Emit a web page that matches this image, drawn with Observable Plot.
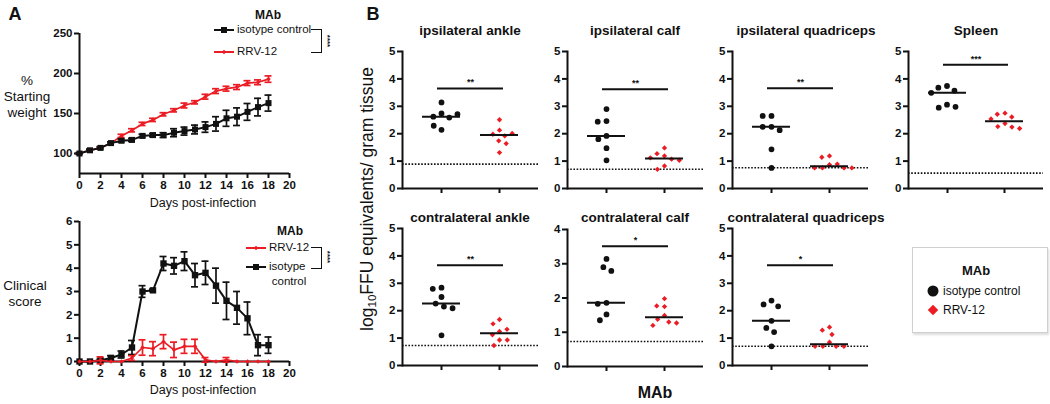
<!DOCTYPE html>
<html><head><meta charset="utf-8">
<script src="https://cdn.jsdelivr.net/npm/d3@7"></script>
<script src="https://cdn.jsdelivr.net/npm/@observablehq/plot@0.6"></script>
<style>
body{margin:0;background:#fff;font-family:"Liberation Sans",Arial,sans-serif;color:#111;}
#root{position:relative;width:1050px;height:404px;overflow:hidden;background:#fff;}
.lbl{position:absolute;white-space:nowrap;line-height:1;transform:translate(-50%,-50%);}
.lg{position:absolute;display:flex;align-items:center;gap:3px;font-size:11.5px;white-space:nowrap;line-height:1;}
.chart{position:absolute;}
.bracket{position:absolute;border:1.5px solid #111;border-left:none;}
.legbox{position:absolute;border:1px solid #cfcfcf;box-shadow:1px 2px 2px #ddd;background:#fff;}
sub{font-size:0.66em;vertical-align:-0.3em;}
</style></head>
<body><div id="root"></div>
<script>
const RED = "#ec1c24";
const INK = "#111";
const groups = ["isotype control", "RRV-12"];

// Panel A: days post-infection
const days = [0,1,2,3,4,5,6,7,8,9,10,11,12,13,14,15,16,17,18];
// % starting weight (mean, SEM)
const weightIso    = [100,104,107,113,116,117,122,123,123,126,128,130,133,137,144,146,152,158,163];
const weightIsoSem = [1,1.5,1.5,1.5,2,2,2,2,3,5,5,5.5,6.5,9,10,11,10.5,11,10];
const weightRrv    = [100,104,107,113,122,129,137,142,149,154,160,164,171,178,181,183,188,189,193];
const weightRrvSem = [1,1,1,1.5,2,2,2,2,2,2,3,2,3,3,3,3,3,3,4];
// clinical score (mean, SEM)
const clinIso    = [0,0,0.05,0.15,0.3,0.6,3.0,3.05,4.2,4.1,4.3,3.7,3.8,3.25,2.6,2.3,1.85,0.7,0.7];
const clinIsoSem = [0,0,0.05,0.1,0.15,0.3,0.25,0.05,0.3,0.35,0.4,0.5,0.5,0.75,0.8,0.7,0.7,0.45,0.35];
const clinRrv    = [0,0,0.05,0,0,0.15,0.6,0.55,0.85,0.5,0.65,0.65,0.07,0,0.07,0,0,0,0];
const clinRrvSem = [0,0,0.15,0,0,0.1,0.33,0.3,0.3,0.33,0.3,0.3,0.1,0,0.1,0,0,0,0];

// Panel B: log10 FFU equivalents / gram tissue
const ipsiAnkleIso  = [3.14,2.74,2.62,2.59,2.71,2.14,2.29];
const ipsiAnkleRrv  = [2.51,2.13,1.98,1.92,2.01,1.74,1.64,1.31];
const ipsiCalfIso   = [2.90,2.46,2.44,1.92,1.80,1.47,1.03];
const ipsiCalfRrv   = [1.48,1.19,1.27,1.07,1.12,1.03,0.82,0.70];
const ipsiQuadIso   = [2.65,2.65,2.25,2.25,2.13,1.43,0.75];
const ipsiQuadRrv   = [1.19,1.14,0.87,0.89,0.75,0.75,0.75,0.75];
const spleenIso     = [3.74,3.68,3.57,3.49,3.06,2.95,2.98];
const spleenRrv     = [2.75,2.71,2.61,2.54,2.37,2.26,2.24,2.19];
const contraAnkleIso = [2.84,2.80,2.50,2.26,2.15,2.09,1.10];
const contraAnkleRrv = [1.68,1.52,1.24,1.32,1.12,0.93,0.93,0.73];
const contraCalfIso  = [3.14,2.90,2.79,1.86,1.83,1.52,1.35];
const contraCalfRrv  = [1.98,1.75,1.77,1.49,1.38,1.30,1.27,1.20];
const contraQuadIso  = [2.37,2.23,2.16,1.63,1.37,1.22,0.70];
const contraQuadRrv  = [1.40,1.29,1.13,0.85,0.70,0.70,0.70,0.70];

const tissueTitles = ["ipsilateral ankle","ipsilateral calf","ipsilateral quadriceps","Spleen",
                      "contralateral ankle","contralateral calf","contralateral quadriceps"];
const detectionLimits = [0.89,0.70,0.76,0.56,0.73,0.73,0.70];
const sigBarValues    = [3.65,3.62,3.66,4.52,3.66,3.51,3.66];
const sigLabels       = ["**","**","**","***","**","*","*"];
const yMaxes          = [5,5,5,5,5,4,5];

const root = document.getElementById("root");
const FONT = "Liberation Sans, Arial, sans-serif";

function label(html, cx, cy, css) {
  const d = document.createElement("div");
  d.className = "lbl"; d.innerHTML = html;
  d.style.left = cx + "px"; d.style.top = cy + "px";
  Object.assign(d.style, css || {});
  root.appendChild(d); return d;
}
function place(node, left, top) {
  node.classList.add("chart");
  node.style.left = left + "px"; node.style.top = top + "px";
  root.appendChild(node); return node;
}

// ---------- Panel A ----------
function timeChart(top, yDomain, yTicks, series) {
  const marks = [
    Plot.ruleX([0], {stroke: INK, strokeWidth: 2}),
    Plot.ruleY([yDomain[0]], {stroke: INK, strokeWidth: 2}),
    Plot.axisX({ticks: [0,2,4,6,8,10,12,14,16,18,20], tickFormat: "d", tickSize: 5, strokeWidth: 2, fontWeight: "bold", fontSize: 11.5, tickPadding: 2, label: null}),
    Plot.axisY({ticks: yTicks, tickFormat: "d", tickSize: 5, strokeWidth: 2, fontWeight: "bold", fontSize: 11.5, tickPadding: 2, label: null})
  ];
  for (const s of series) {
    const rows = days.map((d, i) => ({day: d, v: s.v[i], lo: s.v[i] - s.e[i], hi: s.v[i] + s.e[i], e: s.e[i]}));
    const err = rows.filter(r => r.e > 0);
    marks.push(
      Plot.ruleX(err, {x: "day", y1: "lo", y2: "hi", stroke: s.color, strokeWidth: 1.7}),
      Plot.ruleY(err, {x1: "day", x2: "day", y: "lo", insetLeft: -3.5, insetRight: -3.5, stroke: s.color, strokeWidth: 1.7}),
      Plot.ruleY(err, {x1: "day", x2: "day", y: "hi", insetLeft: -3.5, insetRight: -3.5, stroke: s.color, strokeWidth: 1.7}),
      Plot.line(rows, {x: "day", y: "v", stroke: s.color, strokeWidth: s.sw}),
      Plot.dot(rows, {x: "day", y: "v", symbol: s.symbol, fill: s.color, r: s.r, stroke: "none"})
    );
  }
  const c = Plot.plot({
    width: 305, height: 175, marginLeft: 79, marginRight: 16, marginTop: 13, marginBottom: 22,
    style: {fontFamily: FONT, fontSize: "11px", color: INK, background: "transparent", overflow: "visible"},
    x: {domain: [0, 20], axis: null},
    y: {domain: yDomain, axis: null},
    marks
  });
  place(c, 0, top);
}

timeChart(20, [75, 250], [100,150,200,250], [
  {v: weightRrv, e: weightRrvSem, color: RED, symbol: "diamond2", r: 2, sw: 1.7},
  {v: weightIso, e: weightIsoSem, color: INK, symbol: "square", r: 3.4, sw: 2}
]);
timeChart(208, [0, 6], [0,1,2,3,4,5,6], [
  {v: clinIso, e: clinIsoSem, color: INK, symbol: "square", r: 3.6, sw: 2},
  {v: clinRrv, e: clinRrvSem, color: RED, symbol: "diamond2", r: 2, sw: 1.7}
]);

label("A", 15, 14, {fontWeight: "bold", fontSize: "18px"});
label("%<br>Starting<br>weight", 27, 97, {fontSize: "13.5px", lineHeight: "16px", textAlign: "center"});
label("Days post-infection", 203, 203, {fontSize: "12.5px"});
label("Clinical<br>score", 25, 294, {fontSize: "13.5px", lineHeight: "16px", textAlign: "center"});
label("Days post-infection", 203, 390, {fontSize: "12.5px"});

function swatch(color, symbolType, size) {
  const p = d3.symbol(symbolType, size)();
  return `<svg width="20" height="12"><line x1="0" x2="20" y1="6" y2="6" stroke="${color}" stroke-width="2"/><path transform="translate(10,6)" d="${p}" fill="${color}"/></svg>`;
}
function legendRow(left, cy, html) {
  const d = document.createElement("div");
  d.className = "lg"; d.innerHTML = html;
  d.style.left = left + "px"; d.style.top = (cy - 7) + "px"; d.style.height = "14px";
  root.appendChild(d);
}
function bracket(left, top, w, h, starsX, starsY) {
  const b = document.createElement("div");
  b.className = "bracket";
  Object.assign(b.style, {left: left + "px", top: top + "px", width: w + "px", height: h + "px"});
  root.appendChild(b);
  label("****", starsX, starsY, {fontSize: "8px", fontWeight: "bold", transform: "translate(-50%,-50%) rotate(90deg)"});
}
label("MAb", 268, 15, {fontWeight: "bold", fontSize: "12px"});
legendRow(214, 30, swatch(INK, d3.symbolSquare, 36) + "<span>isotype control</span>");
legendRow(214, 52, swatch(RED, d3.symbolDiamond2, 14) + "<span>RRV-12</span>");
bracket(311, 29, 10, 22, 327, 41);

label("MAb", 290, 231, {fontWeight: "bold", fontSize: "12px"});
legendRow(246, 248, swatch(RED, d3.symbolDiamond2, 14) + "<span>RRV-12</span>");
legendRow(246, 267, swatch(INK, d3.symbolSquare, 36) + "<span>isotype</span>");
label("control", 289, 282, {fontSize: "11.5px"});
bracket(311, 247, 10, 20, 327, 257);

// ---------- Panel B ----------
const panelData = [
  [ipsiAnkleIso, ipsiAnkleRrv], [ipsiCalfIso, ipsiCalfRrv], [ipsiQuadIso, ipsiQuadRrv], [spleenIso, spleenRrv],
  [contraAnkleIso, contraAnkleRrv], [contraCalfIso, contraCalfRrv], [contraQuadIso, contraQuadRrv]
];
const panelLeft = [372, 537, 702, 878, 372, 537, 702];
const panelTop  = [43, 43, 43, 43, 220, 221, 220];
const plotW     = [136, 136, 136, 135, 136, 136, 136];
const titleX    = [470, 635, 806, 976, 470, 635, 806];
const titleY    = [31, 31, 31, 31, 218, 218, 218];

panelData.forEach(([iso, rrv], k) => {
  const ymax = yMaxes[k];
  const isoRows = iso.map(v => ({g: groups[0], v}));
  const rrvRows = rrv.map(v => ({g: groups[1], v}));
  const meds = [{g: groups[0], m: d3.median(iso)}, {g: groups[1], m: d3.median(rrv)}];
  const c = Plot.plot({
    width: 170, height: 157, marginLeft: 30, marginRight: 170 - 30 - plotW[k], marginTop: 8, marginBottom: 12,
    style: {fontFamily: FONT, fontSize: "11px", color: INK, background: "transparent", overflow: "visible"},
    x: {type: "point", domain: groups, padding: 0.672, axis: null},
    y: {domain: [0, ymax], axis: null},
    color: {domain: groups, range: [INK, RED]},
    symbol: {domain: groups, range: ["circle", "diamond2"]},
    marks: [
      Plot.ruleY([detectionLimits[k]], {stroke: INK, strokeWidth: 1.6, strokeDasharray: "1.6,1.6"}),
      Plot.axisY({ticks: d3.range(0, ymax + 1), tickFormat: "d", tickSize: 5, strokeWidth: 2, fontWeight: "bold", fontSize: 11.5, tickPadding: 2, label: null}),
      Plot.frame({anchor: "left", stroke: INK, strokeWidth: 2}),
      Plot.ruleY([0], {stroke: INK, strokeWidth: 2}),
      Plot.ruleX(groups, {x: d => d, y1: 0, y2: 0, insetBottom: -5, stroke: INK, strokeWidth: 2}),
      Plot.ruleY([sigBarValues[k]], {x1: () => groups[0], x2: () => groups[1], insetLeft: -4, insetRight: -4, stroke: INK, strokeWidth: 2}),
      Plot.text([sigLabels[k]], {y: sigBarValues[k], text: d => d, dy: -6, fontSize: 9, fontWeight: "bold"}),
      Plot.dot(isoRows, Plot.dodgeX({anchor: "middle", padding: 3}, {y: "v", r: 2.9, fill: "g", symbol: "g", dx: -29})),
      Plot.dot(rrvRows, Plot.dodgeX({anchor: "middle", padding: 3}, {y: "v", r: 2.4, fill: "g", symbol: "g", dx: 29})),
      Plot.ruleY(meds, {x1: "g", x2: "g", y: "m", insetLeft: -19, insetRight: -19, stroke: INK, strokeWidth: 2})
    ]
  });
  place(c, panelLeft[k], panelTop[k]);
  label(tissueTitles[k], titleX[k], titleY[k], {fontWeight: "bold", fontSize: "13.5px"});
});

label("B", 373, 14, {fontWeight: "bold", fontSize: "18px"});
label("log<sub>10</sub>FFU equivalents/ gram tissue", 369, 199, {fontSize: "17.5px", transform: "translate(-50%,-50%) rotate(-90deg)"});
label("MAb", 655, 393, {fontWeight: "bold", fontSize: "16px"});

// legend box for panel B
const box = document.createElement("div");
box.className = "legbox";
Object.assign(box.style, {left: "912px", top: "247px", width: "134px", height: "84px"});
root.appendChild(box);
label("MAb", 976, 270, {fontWeight: "bold", fontSize: "13px"});
function bSwatch(color, type, size) {
  return `<svg width="14" height="14"><path transform="translate(7,7)" d="${d3.symbol(type, size)()}" fill="${color}"/></svg>`;
}
const lgA = document.createElement("div"); lgA.className = "lg"; lgA.style.fontSize = "12px";
lgA.innerHTML = bSwatch(INK, d3.symbolCircle, 95) + "<span>isotype control</span>";
lgA.style.left = "926px"; lgA.style.top = "284px"; root.appendChild(lgA);
const lgB = document.createElement("div"); lgB.className = "lg"; lgB.style.fontSize = "12px";
lgB.innerHTML = bSwatch(RED, d3.symbolDiamond2, 70) + "<span>RRV-12</span>";
lgB.style.left = "926px"; lgB.style.top = "303px"; root.appendChild(lgB);
</script></body></html>
